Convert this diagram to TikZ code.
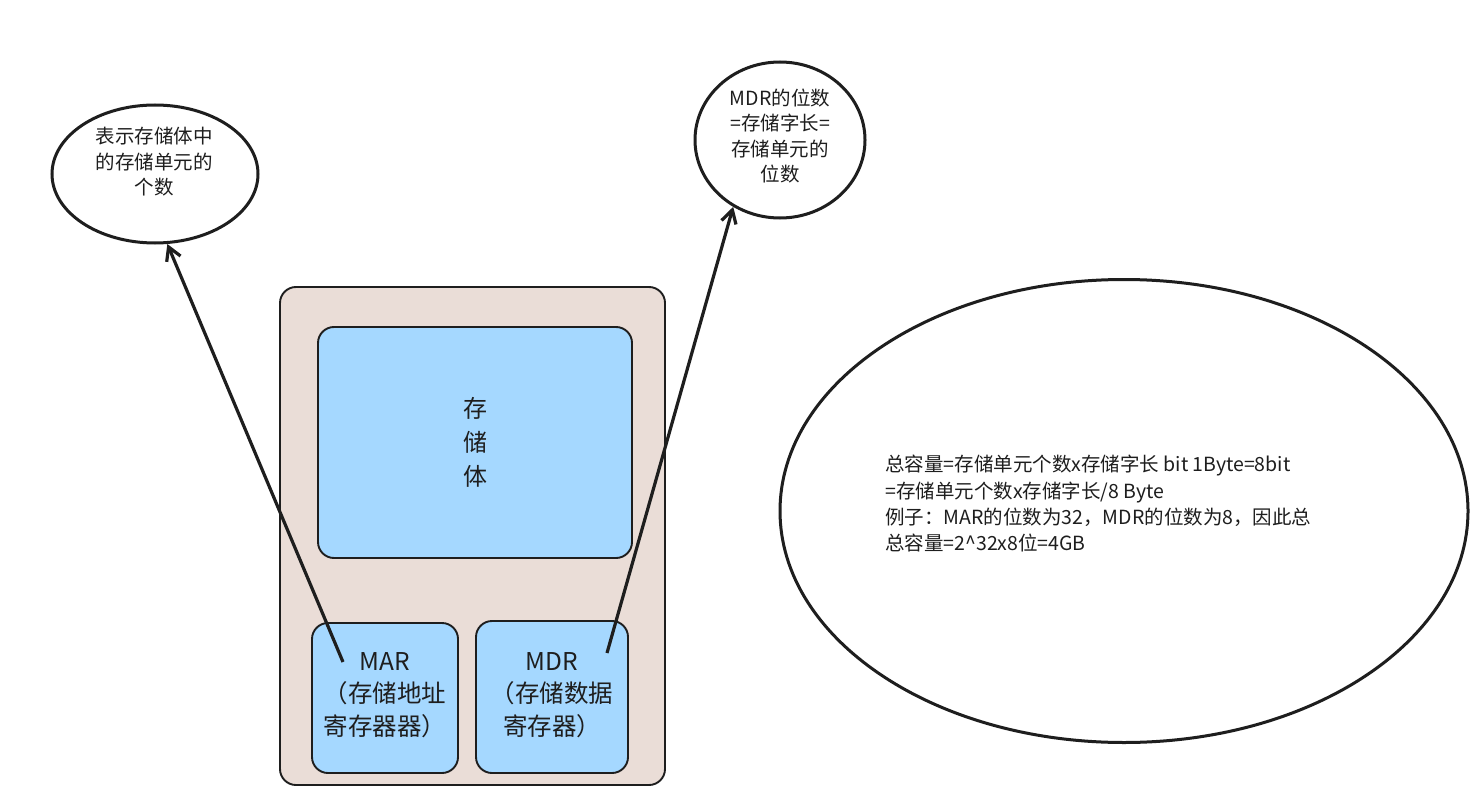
\documentclass[tikz,border=0pt]{standalone}
\usepackage{fontspec}
\setmainfont{Noto Sans CJK SC}
\usetikzlibrary{shapes.geometric,arrows.meta}
\definecolor{ink}{HTML}{1E1E1E}
\definecolor{outerfill}{HTML}{EADDD7}
\definecolor{cellfill}{HTML}{A5D8FF}
\begin{document}
\begin{tikzpicture}[x=1pt,y=-1pt,
 box/.style={draw=ink, line width=1.9pt, rounded corners=16pt, inner sep=0pt},
 bubble/.style={ellipse, draw=ink, line width=3pt, inner sep=0pt},
 conn/.style={draw=ink, line width=3.2pt, -{Straight Barb[length=13pt,width=15pt,line width=3.2pt]}},
 txt/.style={text=ink, align=center, inner sep=0pt},
 small/.style={font=\fontsize{19.5}{25.5}\selectfont},
 big/.style={font=\fontsize{24.5}{32.5}\selectfont},
]
\path[use as bounding box] (0,0) rectangle (1477,805);
\fill[white] (0,0) rectangle (1477,805);

% containers
\node[box, fill=outerfill, minimum width=385pt, minimum height=498pt] (outer) at (472.5,536) {};
\node[box, fill=cellfill, minimum width=314pt, minimum height=231pt] (store) at (475,442.5) {};
\node[box, fill=cellfill, minimum width=146pt, minimum height=150pt] (mar) at (385,698) {};
\node[box, fill=cellfill, minimum width=152pt, minimum height=152pt] (mdr) at (552,697) {};

\node[txt, big, font=\fontsize{24}{34}\selectfont] (storetxt) at (475,442) {存\\储\\体};
\node[txt, big] (martxt) at (385,695) {MAR\\（存储地址\\寄存器器）};
\node[txt, big] (mdrtxt) at (552,695) {MDR\\（存储数据\\寄存器）};

% bubbles
\node[bubble, minimum width=206pt, minimum height=138pt] (lell) at (155,174) {};
\node[txt, small] (ltxt) at (154,162) {表示存储体中\\的存储单元的\\个数};

\node[bubble, minimum width=170pt, minimum height=156pt] (rell) at (780,140) {};
\node[txt, small] (rtxt) at (780,136) {MDR的位数\\=存储字长=\\存储单元的\\位数};

\node[bubble, minimum width=688pt, minimum height=463pt] (bell) at (1124,511) {};
\node[text=ink, align=left, inner sep=0pt, anchor=north west,
      font=\fontsize{19.5}{26.4}\selectfont] (btxt) at (885,455)
 {总容量=存储单元个数x存储字长 bit 1Byte=8bit\\
  =存储单元个数x存储字长/8 Byte\\
  例子：MAR的位数为32，MDR的位数为8，因此总\\
  总容量=2\^{}32x8位=4GB};

% connectors
\coordinate (marA) at (343,662);
\coordinate (mdrA) at (607,653);
\draw[conn] (marA) -- (lell.-80);
\draw[conn] (mdrA) -- (rell.-125);
\end{tikzpicture}
\end{document}
